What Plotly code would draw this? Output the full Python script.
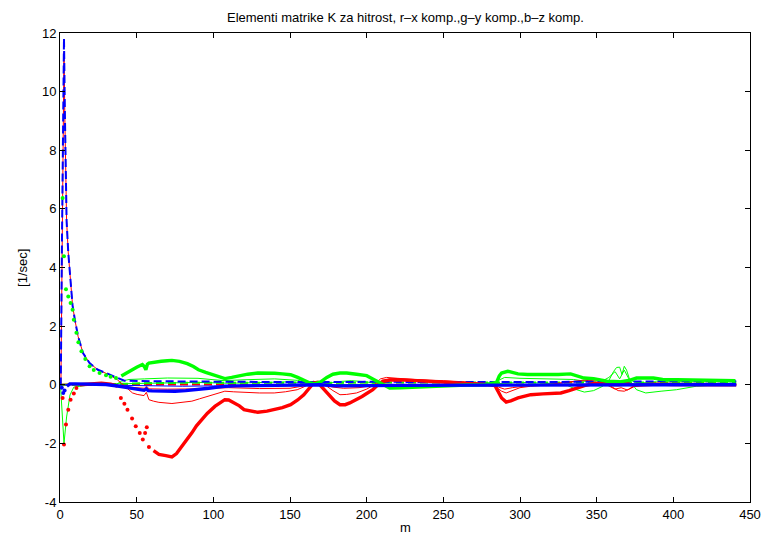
import plotly.graph_objects as go

# ---------------- data ----------------
red_thick_x = [0.5, 1.7, 2.6, 3.9, 5.4, 6.9, 9, 10.7, 13, 20,
               27, 33, 37.6, 39.7, 42, 44, 47, 49.4, 52, 54,
               55.5, 56.6, 58, 61, 64.5, 69, 73, 76, 79.5, 83,
               86, 89, 92.4, 96, 101, 104, 107.5, 110, 114, 117,
               120, 125, 129, 135, 139.7, 145, 150.4, 155, 159, 162,
               165.4, 168, 171, 176, 179, 182.6, 186, 189, 193.4, 197,
               200, 204, 207, 210.6, 215, 219, 230, 240.7, 250, 262,
               272, 280, 283.7, 285.8, 288, 291, 294, 298.7, 303, 307,
               315, 326.6, 332, 337, 342, 348, 355, 364, 370, 375,
               380, 390, 400, 420, 441]
red_thick_y = [0, -0.45, -2.04, -1.36, -0.85, -0.51, -0.3, -0.11, 0, 0.03,
               0.05, 0.02, -0.05, -0.45, -0.65, -0.85, -1.15, -1.42, -1.65, -1.87,
               -1.65, -1.45, -2.12, -2.25, -2.38, -2.42, -2.46, -2.35, -2.1, -1.88,
               -1.64, -1.4, -1.19, -0.98, -0.74, -0.62, -0.51, -0.52, -0.62, -0.72,
               -0.85, -0.9, -0.94, -0.9, -0.85, -0.78, -0.68, -0.52, -0.34, -0.15,
               0.06, 0.08, -0.1, -0.4, -0.55, -0.68, -0.68, -0.62, -0.51, -0.4,
               -0.3, -0.17, -0.02, 0.12, 0.16, 0.17, 0.15, 0.12, 0.09, 0.06,
               0.02, 0, -0.03, -0.22, -0.45, -0.59, -0.55, -0.45, -0.38, -0.34,
               -0.31, -0.28, -0.2, -0.11, -0.03, 0.04, 0.02, 0, 0.03, -0.02,
               0, 0.02, 0.01, 0, 0]

green_thick_x = [1.7, 2.6, 3.9, 5.4, 6.9, 8.2, 9, 10.7, 12, 14,
                 16.5, 19.3, 22, 25.8, 30, 33, 36.5, 40, 43, 47,
                 50, 53.7, 55, 56, 57, 58, 62, 66, 70, 73,
                 78, 83, 87, 90.3, 95, 100, 104, 107.5, 112, 118,
                 122.5, 129, 135, 140, 145, 150.4, 155, 159, 163, 166,
                 170, 174, 178, 182.6, 187, 193.4, 200, 204, 208.5, 212,
                 215, 222, 230, 240, 251.4, 265, 277, 284.7, 286.5, 288,
                 292, 298.7, 305, 316, 325, 333, 338, 341.7, 348, 356.8,
                 365, 371.8, 376, 387, 393, 410, 425, 440.5]
green_thick_y = [6.37, 4.38, 3.26, 3.01, 2.79, 2.56, 2.22, 1.77, 1.45, 1.14,
                 0.88, 0.63, 0.5, 0.4, 0.32, 0.27, 0.23, 0.3, 0.4, 0.5,
                 0.6, 0.69, 0.62, 0.51, 0.7, 0.74, 0.78, 0.8, 0.82, 0.83,
                 0.8, 0.72, 0.62, 0.51, 0.42, 0.33, 0.26, 0.21, 0.25, 0.32,
                 0.36, 0.4, 0.4, 0.39, 0.37, 0.34, 0.25, 0.15, 0.06, 0.03,
                 0.1, 0.25, 0.36, 0.4, 0.4, 0.36, 0.31, 0.2, 0.06, -0.05,
                 -0.11, -0.1, -0.08, -0.05, -0.03, -0.01, 0, 0.08, 0.3, 0.4,
                 0.46, 0.37, 0.35, 0.34, 0.35, 0.37, 0.3, 0.23, 0.21, 0.12,
                 0.1, 0.16, 0.23, 0.23, 0.18, 0.16, 0.14, 0.14]

blue_thick_x = [0.5, 1.2, 2.1, 3, 4.5, 6.4, 10, 20, 30, 38.7,
                42, 47, 51, 54.8, 56.3, 57.5, 60, 64.5, 70, 75,
                82, 90, 97, 103, 107.5, 115, 125, 140, 155, 165,
                170, 180, 193.4, 205, 220, 260, 300, 350, 400, 441]
blue_thick_y = [0, -0.1, -0.28, -0.2, -0.05, 0.03, 0.03, 0.02, 0.01, -0.05,
                -0.08, -0.12, -0.16, -0.19, -0.14, -0.2, -0.21, -0.22, -0.23, -0.22,
                -0.2, -0.17, -0.12, -0.08, -0.05, -0.04, -0.03, -0.02, 0, 0.02,
                0, -0.04, -0.05, -0.03, -0.02, -0.01, -0.02, 0, 0, 0]

red_thin_a_x = [0, 0.6, 1.3, 2.0, 2.6, 3.2, 3.7, 4.3, 5.4, 6.9,
                8.2, 9.7, 11.8, 15, 19.3, 24.7, 32.2, 37.4, 40, 44,
                47.3, 50.3, 54.8, 56.3, 58, 61, 64.5, 73, 80, 86,
                91, 96.7, 102, 107.5, 113, 120, 130, 139.7, 147, 154.7,
                160, 165.4, 169, 174, 178, 182.6, 187, 193.4, 200, 205,
                209, 213, 220, 235, 251, 265, 281, 285, 288, 291,
                295, 300, 307, 315, 325, 335, 342, 348, 352, 356,
                360, 364, 368, 371, 374, 377, 382, 390, 400, 420,
                441]
red_thin_a_y = [0, 0, 4.0, 9.0, 11.36, 9.0, 7.0, 5.6, 4.5, 3.35,
                2.7, 2.22, 1.65, 1.08, 0.74, 0.51, 0.34, 0.17, 0.05, -0.12,
                -0.28, -0.33, -0.37, -0.26, -0.51, -0.56, -0.6, -0.64, -0.6, -0.56,
                -0.48, -0.39, -0.3, -0.22, -0.24, -0.26, -0.28, -0.28, -0.24, -0.17,
                -0.05, 0.12, 0.05, -0.05, -0.2, -0.34, -0.33, -0.28, -0.15, 0.0,
                0.2, 0.25, 0.22, 0.17, 0.12, 0.06, 0, -0.1, -0.22, -0.28,
                -0.2, -0.1, -0.05, -0.02, 0.05, 0.12, 0.18, 0.2, 0.18, 0.05,
                -0.1, -0.2, -0.22, -0.15, -0.05, 0.02, 0, 0, 0, 0,
                0]

red_thin_b_x = [0, 10, 20, 30, 38, 45, 55, 56.5, 58, 70,
                90, 110, 130, 150, 158, 165, 170, 178, 185, 195,
                205, 210, 215, 230, 250, 270, 282, 286, 290, 295,
                302, 310, 325, 338, 345, 352, 358, 362, 366, 370,
                375, 382, 400, 441]
red_thin_b_y = [0, 0, 0.01, 0, -0.03, -0.08, -0.12, -0.05, -0.14, -0.15,
                -0.14, -0.1, -0.13, -0.12, -0.05, 0.08, 0.02, -0.08, -0.12, -0.1,
                -0.02, 0.12, 0.2, 0.18, 0.14, 0.08, 0.0, -0.08, -0.15, -0.1,
                -0.05, 0, 0.05, 0.1, 0.15, 0.12, -0.05, -0.15, -0.1, -0.18,
                -0.05, 0, 0, 0]

green_thin_a_x = [0.3, 1.5, 2.6, 4.3, 5.5, 6.5, 9, 20, 30, 37,
                  40, 45, 55, 70, 90, 107, 120, 140, 155, 163,
                  170, 180, 190, 200, 208, 215, 225, 240, 260, 280,
                  286, 290, 300, 320, 335, 345, 352, 358, 362, 365,
                  368, 371, 376, 390, 410, 441]
green_thin_a_y = [0, -0.95, -2.0, -1.1, -0.6, -0.35, -0.08, 0, 0, 0.02,
                  0.12, 0.18, 0.2, 0.23, 0.22, 0.14, 0.17, 0.2, 0.15, 0.05,
                  -0.03, 0.1, 0.14, 0.1, 0.0, -0.08, -0.1, -0.07, -0.03, 0.0,
                  0.15, 0.25, 0.22, 0.2, 0.18, 0.1, 0.08, 0.25, 0.45, 0.2,
                  0.5, 0.2, 0.05, 0.1, 0.1, 0.1]

green_thin_b_x = [0, 40, 60, 90, 110, 130, 150, 165, 180, 200,
                  215, 240, 270, 290, 300, 320, 330, 337, 342, 348,
                  354, 358, 361, 363, 365, 366.5, 368, 369.5, 372, 376,
                  382, 392, 402, 415, 430, 441]
green_thin_b_y = [0, 0.03, 0.06, 0.08, 0.05, 0.08, 0.1, 0.05, 0.0, 0.02,
                  -0.06, -0.05, -0.02, 0.05, 0.08, 0.05, 0.0, -0.17, -0.25, -0.2,
                  -0.05, 0.15, 0.45, 0.59, 0.6, 0.35, 0.63, 0.5, 0.1, -0.17,
                  -0.28, -0.22, -0.17, -0.05, 0, 0]

blue_thin_x = [0, 20, 40, 60, 80, 100, 130, 160, 200, 250, 300, 350, 400, 441]
blue_thin_y = [0, 0.01, -0.02, -0.04, -0.05, -0.04, -0.03, -0.01, -0.02, 0, -0.01, 0, 0, 0]

blue_dash_x = [0, 0.5, 1.3, 2.0, 2.6, 3.2, 3.7, 4.3, 5.4, 6.9,
               8.2, 9.7, 11.8, 15, 19.3, 24.7, 32.2, 38.7, 42, 60,
               90, 120, 150, 180, 210, 250, 300, 350, 400, 441]
blue_dash_y = [0, 0, 5.0, 10.0, 11.82, 9.2, 7.1, 5.6, 4.5, 3.35,
               2.7, 2.22, 1.65, 1.08, 0.74, 0.51, 0.34, 0.2, 0.14, 0.12,
               0.1, 0.1, 0.09, 0.1, 0.1, 0.09, 0.09, 0.1, 0.12, 0.12]

green_dash_x = [0, 20, 40, 60, 100, 150, 200, 250, 300, 350, 400, 441]
green_dash_y = [0, 0, 0.03, 0.06, 0.07, 0.07, 0.06, 0.06, 0.06, 0.06, 0.07, 0.08]

red_dash_x = [0, 20, 40, 100, 200, 300, 400, 441]
red_dash_y = [0, 0.02, 0.01, 0, 0, 0, 0, 0]

# x-ranges where the thick (point-marker) series shows separate dots
red_sparse = [(1.0, 12.0), (38.0, 59.0)]
green_sparse = [(1.5, 37.0)]
blue_sparse = [(1.0, 4.0)]

x_ticks = [0, 50, 100, 150, 200, 250, 300, 350, 400, 450]
y_ticks = [-4, -2, 0, 2, 4, 6, 8, 10, 12]

title_text = "Elementi matrike K za hitrost, r\u2013x komp.,g\u2013y komp.,b\u2013z komp."
x_label = "m"
y_label = "[1/sec]"

RED, GREEN, BLUE = "#ff0000", "#00ff00", "#0000ff"
FONT = "Liberation Sans, Arial, Helvetica, sans-serif"

fig = go.Figure()


def thin(x, y, c, w=1.0):
    fig.add_trace(go.Scatter(x=x, y=y, mode="lines", line=dict(color=c, width=w),
                             showlegend=False, hoverinfo="skip"))


def dashed(x, y, c, w=2.0):
    fig.add_trace(go.Scatter(x=x, y=y, mode="lines",
                             line=dict(color=c, width=w, dash="8px,4px"),
                             showlegend=False, hoverinfo="skip"))


def thick(x, y, c, sparse):
    flags = [any(a <= xi <= b for a, b in sparse) for xi in x]
    line_y = [None if f else yi for yi, f in zip(y, flags)]
    fig.add_trace(go.Scatter(x=x, y=line_y, mode="lines", connectgaps=False,
                             line=dict(color=c, width=3.4),
                             showlegend=False, hoverinfo="skip"))
    mx = [xi for xi, f in zip(x, flags) if f]
    my = [yi for yi, f in zip(y, flags) if f]
    fig.add_trace(go.Scatter(x=mx, y=my, mode="markers",
                             marker=dict(color=c, size=4, line=dict(width=0)),
                             showlegend=False, hoverinfo="skip"))


dashed(red_dash_x, red_dash_y, RED)
dashed(green_dash_x, green_dash_y, GREEN)
thin(red_thin_b_x, red_thin_b_y, RED)
thin(green_thin_b_x, green_thin_b_y, GREEN)
thin(green_thin_a_x, green_thin_a_y, GREEN)
thin(blue_thin_x, blue_thin_y, BLUE)
thin(red_thin_a_x, red_thin_a_y, RED)
dashed(blue_dash_x, blue_dash_y, BLUE)
thick(red_thick_x, red_thick_y, RED, red_sparse)
thick(green_thick_x, green_thick_y, GREEN, green_sparse)
thick(blue_thick_x, blue_thick_y, BLUE, blue_sparse)

axis_common = dict(showgrid=False, zeroline=False, showline=True, linecolor="black",
                   linewidth=1, mirror="ticks", ticks="inside", ticklen=5,
                   tickcolor="black", tickwidth=1,
                   tickfont=dict(family=FONT, size=13, color="black"))

# The page body adds an 8px offset, so the figure is 8px smaller than the window.
fig.update_layout(
    width=765, height=528,
    margin=dict(l=52, r=15, t=25, b=34, pad=0),
    paper_bgcolor="white", plot_bgcolor="white",
    xaxis=dict(range=[0, 450], tickvals=x_ticks, ticktext=[str(v) for v in x_ticks],
               **axis_common),
    yaxis=dict(range=[-4, 12], tickvals=y_ticks, ticktext=[str(v) for v in y_ticks],
               **axis_common),
    annotations=[
        dict(text=title_text, xref="paper", yref="paper", x=0.5, y=1.033,
             xanchor="center", yanchor="middle", showarrow=False,
             font=dict(family=FONT, size=13, color="black")),
        dict(text=x_label, xref="paper", yref="paper", x=0.5, y=-0.0543,
             xanchor="center", yanchor="middle", showarrow=False,
             font=dict(family=FONT, size=13, color="black")),
        dict(text=y_label, xref="paper", yref="paper", x=-0.0544, y=0.5,
             xanchor="center", yanchor="middle", showarrow=False, textangle=-90,
             font=dict(family=FONT, size=13, color="black")),
    ],
)

fig.write_html("out.html", config={"displayModeBar": False})
